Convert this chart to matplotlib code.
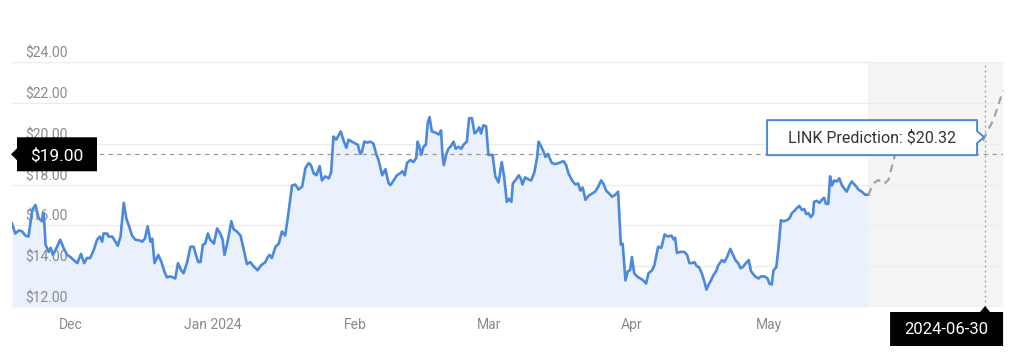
import matplotlib
matplotlib.use("Agg")
import matplotlib.pyplot as plt
from matplotlib.patches import Polygon
from matplotlib.transforms import IdentityTransform

plt.rcParams['font.family'] = ['Roboto', 'DejaVu Sans']

# ---- data (x = days since 2023-12-01) ----
hist_days = [-12.7, -12.0, -11.2, -10.5, -9.8, -9.1, -8.3, -7.6, -6.9, -6.2, -5.8, -5.4, -4.7, -4.3, -3.8,
             -2.9, -2.2, -1.5, -0.7, 0.0, 0.7, 1.5, 2.3, 3.0, 3.6, 4.3, 5.1, 5.8, 6.4, 6.9, 7.2, 8.0, 8.3,
             9.1, 9.8, 10.3, 10.9, 11.6, 12.2, 12.7, 13.4, 14.1, 15.2,
             15.6, 16.2, 16.8, 17.4, 17.8, 18.3, 19.1, 19.8, 20.5, 21.0, 21.7, 22.3, 22.8, 23.4, 24.1, 24.6,
             25.4, 26.1, 26.8, 27.3, 27.8, 28.3, 28.8, 29.3, 29.9, 30.4, 31.2, 31.9, 32.6, 33.1, 33.5, 34.1,
             35.0, 35.5, 36.2, 37.0, 37.7, 38.4, 39.1, 39.8, 40.7, 41.5, 42.4,
             42.8, 43.3, 43.8, 44.6, 45.3, 46.0, 46.7, 47.2, 47.7, 48.2, 48.9, 49.6, 50.4, 51.1, 51.8, 52.3,
             52.9, 53.5, 54.2, 54.7, 55.4, 56.2, 56.7, 57.2, 57.8, 58.3, 58.8, 59.4, 60.0, 60.5, 61.2, 62.0,
             62.5, 63.0, 63.4, 63.9, 64.6, 65.2, 65.9, 66.5, 67.0, 67.8, 68.5, 69.2, 69.6,
             70.3, 71.0, 71.7, 72.2, 72.7, 73.2, 73.9, 74.6, 75.2, 75.5, 75.9, 76.3, 76.8, 77.3, 77.7, 78.1,
             78.6, 79.3, 80.1, 80.6, 80.9, 81.2, 81.7, 82.2, 82.8, 83.3, 83.8, 84.4, 85.0, 85.5, 86.2, 86.7,
             87.3, 87.9, 88.4, 88.9, 89.3, 89.8, 90.4, 90.9, 91.8, 92.4, 93.1, 93.8, 94.3, 94.9, 95.4, 95.9,
             96.2, 96.9, 97.5, 98.0, 98.3, 98.9, 99.6, 100.2, 100.9, 101.5, 101.8, 102.4, 102.9, 103.3,
             103.8, 104.2, 104.7, 105.4, 106.2, 106.7, 107.2, 107.8, 108.3, 109.1, 109.8, 110.4, 110.9,
             111.4, 112.0, 112.7, 113.4, 114.1, 114.8, 115.4, 115.9, 116.5, 117.2, 117.8, 118.5, 119.1,
             119.4, 119.7, 120.1, 120.7, 121.2, 121.7, 122.1, 122.6, 123.2, 123.9, 124.6, 125.2, 125.7,
             126.5, 127.0, 127.8, 128.5, 129.2, 129.9, 130.7, 131.2, 131.5, 131.9, 132.6, 133.5, 134.1,
             134.6, 135.2, 135.7, 136.2, 136.7, 137.3, 137.8, 138.3, 138.8, 139.3, 139.8, 140.4, 140.9,
             141.7, 142.2, 142.8, 143.5, 144.0, 144.6, 145.2, 145.7, 146.2, 146.9, 147.5, 148.0, 148.9,
             149.6, 150.2, 150.9, 151.6, 152.0, 152.5, 152.9, 153.5, 154.0, 154.5, 155.1, 155.8, 156.4,
             156.9, 157.4, 158.0, 158.5, 159.1, 159.6, 160.0, 160.5, 161.0, 161.5, 161.7, 162.3, 162.9,
             163.4, 163.9, 164.3, 164.8, 165.2, 165.6, 166.1, 166.7, 167.2, 167.8, 168.3, 168.8, 169.4,
             169.9, 170.7, 171.4, 172.1, 172.8, 173.5]
hist_price = [16.1, 15.6, 15.75, 15.7, 15.5, 15.45, 16.75, 17.0, 16.35, 16.2, 16.6, 15.05, 14.7, 14.9, 14.55,
              14.95, 15.3, 14.9, 14.55, 14.45, 14.3, 14.15, 14.6, 14.15, 14.4, 14.4, 14.8, 15.3, 15.45, 15.2,
              15.6, 15.6, 15.45, 15.45, 15.2, 15.0, 15.45, 17.1, 16.3, 16.0, 15.5, 15.3, 15.25,
              15.2, 15.35, 15.95, 15.2, 15.35, 14.15, 14.55, 14.2, 13.7, 13.45, 13.5, 13.45, 13.4, 14.15,
              13.8, 13.65, 14.2, 14.95, 14.95, 14.55, 14.2, 14.2, 15.05, 15.1, 15.6, 15.3, 15.1, 15.85, 15.6,
              15.3, 14.55, 15.1, 16.2, 15.8, 15.7, 15.5, 14.8, 14.1, 14.2, 14.0, 13.8, 14.05, 14.2,
              14.4, 14.55, 14.4, 14.95, 15.1, 15.7, 15.5, 16.25, 17.1, 17.95, 18.0, 17.75, 17.9, 18.8, 19.05,
              18.95, 18.55, 18.45, 18.9, 18.2, 18.4, 18.3, 18.6, 20.35, 20.2, 20.4, 20.6, 20.15, 19.8, 20.2,
              20.1, 20.0, 19.95, 19.5, 19.6, 20.1, 20.05, 20.1, 20.0, 19.5, 19.2, 18.45, 18.75, 18.05, 17.97,
              18.2, 18.45, 18.55, 18.65, 18.45, 19.05, 19.2, 19.1, 19.3, 20.1, 19.85, 19.45, 19.85, 19.95,
              21.0, 21.3, 20.6, 20.55, 20.45, 20.65, 19.45, 18.95, 19.45, 19.75, 19.9, 20.1, 19.75, 19.85,
              19.75, 19.95, 20.1, 21.25, 21.25, 20.5, 20.6, 20.8, 20.5, 20.9, 20.85, 19.45, 19.45, 18.4,
              18.1, 19.1, 18.4, 17.15, 17.3, 17.15,
              18.05, 18.25, 18.45, 18.25, 18.0, 18.35, 18.25, 18.2, 18.6, 19.35, 20.1, 19.85, 19.6, 19.35,
              19.5, 19.3, 19.05, 19.0, 19.05, 19.1, 19.15, 18.95, 18.55, 18.2, 18.0, 18.05, 17.7,
              17.85, 17.25, 17.45, 17.55, 17.65, 17.9, 18.2, 18.05, 17.7, 17.55, 17.4, 17.5, 17.65,
              16.35, 15.05, 15.1, 13.3, 13.75, 13.8, 14.45, 13.65, 13.5, 13.4, 13.3, 13.15, 13.65,
              13.8, 14.05, 14.95, 14.9, 15.55, 15.45, 15.5, 15.3, 15.4, 14.65, 14.7, 14.7, 14.55,
              14.15, 14.15, 14.2, 14.0, 13.95, 13.65, 13.3, 12.85, 13.1, 13.3, 13.55, 13.75, 14.05,
              14.3, 14.2, 14.45, 14.85, 14.6, 14.3, 14.15, 13.9, 13.95, 14.15, 14.3, 13.75, 13.5,
              13.4, 13.5, 13.5, 13.4, 13.15, 13.1, 13.8, 13.95, 14.95, 16.25, 16.2, 16.25, 16.35,
              16.6, 16.7, 16.85, 16.95, 16.75, 16.8, 16.55, 16.6, 16.4, 16.55, 17.15, 17.2, 17.1,
              17.25, 17.35, 17.05, 17.05, 18.4, 17.95, 18.2, 18.15, 18.3, 17.95, 17.8, 17.65, 17.95,
              18.15, 17.95, 17.75, 17.65, 17.5, 17.5]

pred_days = [173.5, 174.6, 175.7, 176.8, 177.9, 179.0, 179.3, 198.5, 199.3, 200.7, 202.8]
pred_price = [17.48, 18.06, 18.22, 18.02, 18.22, 19.2, 19.44, 20.18, 20.58, 21.15, 22.6]

month_ticks = [0, 31, 62, 91, 122, 152]
month_labels = ['Dec', 'Jan 2024', 'Feb', 'Mar', 'Apr', 'May']
y_ticks = [12, 14, 16, 18, 20, 22, 24]
y_labels = ['$12.00', '$14.00', '$16.00', '$18.00', '$20.00', '$22.00', '$24.00']

cross_y = 19.48
cross_label = '$19.00'
target_day = 198.9
target_label = '2024-06-30'
target_value = 20.32
pred_text = 'LINK Prediction: $20.32'

# ---- figure ----
W, H = 1024, 360
fig = plt.figure(figsize=(W / 100, H / 100), dpi=100)
ax = fig.add_axes([12 / W, (H - 307) / H, (1003 - 12) / W, (307 - 62) / H])
x_min, x_max = -12.7, 202.8
ax.set_xlim(x_min, x_max)
ax.set_ylim(12, 24)

for s in ax.spines.values():
    s.set_visible(False)

ax.set_yticks(y_ticks)
ax.set_yticklabels([])
ax.tick_params(axis='y', length=0)
ax.grid(axis='y', color='#ececec', lw=1)
ax.set_axisbelow(True)

ax.set_xticks(month_ticks)
ax.set_xticklabels(month_labels)
ax.tick_params(axis='x', length=0, pad=8, labelsize=10, labelcolor='#8a8a8a')

for v, lab in zip(y_ticks, y_labels):
    ax.annotate(lab, xy=(0, v), xycoords=('axes fraction', 'data'), xytext=(9.5, 3.2),
                textcoords='offset points', ha='left', va='baseline', fontsize=10, color='#8a8a8a',
                zorder=2)

# forecast shaded region
ax.axvspan(hist_days[-1], x_max, color='#f5f5f5', lw=0, zorder=0.5)

# history
ax.fill_between(hist_days, hist_price, 12, color='#eaf1fc', lw=0, zorder=1)
ax.plot(hist_days, hist_price, color='#4a89dc', lw=1.9, solid_joinstyle='round', zorder=3)

# prediction
ax.plot(pred_days, pred_price, color='#a3a3a3', lw=1.6, ls=(0, (3.5, 2.5)), zorder=3, clip_on=False)

# crosshair
ax.axhline(cross_y, color='#9a9a9a', lw=0.9, ls=(0, (3.5, 3.5)), zorder=2.5)
ax.axvline(target_day, color='#9a9a9a', lw=0.9, ls=(0, (1.5, 2.5)), zorder=2.5)

ID = IdentityTransform()

# $19.00 box on the left
x0 = ax.transAxes.transform((0, 0))[0] - 1
py = ax.transData.transform((0, cross_y))[1]
poly = [(x0, py), (x0 + 6, py + 6), (x0 + 6, py + 17), (x0 + 86, py + 17),
        (x0 + 86, py - 17), (x0 + 6, py - 17), (x0 + 6, py - 6)]
fig.add_artist(Polygon(poly, closed=True, transform=ID, fc='black', ec='none', zorder=10))
fig.text(x0 + 46, py - 1, cross_label, transform=ID, ha='center', va='center',
         color='white', fontsize=12.5, zorder=11)

# date box at the bottom
vx = ax.transData.transform((target_day, 12))[0]
by = ax.transAxes.transform((0, 0))[1]
poly = [(vx, by + 1), (vx + 5, by - 5), (vx + 18, by - 5), (vx + 18, by - 39),
        (vx - 95, by - 39), (vx - 95, by - 5), (vx - 5, by - 5)]
fig.add_artist(Polygon(poly, closed=True, transform=ID, fc='black', ec='none', zorder=10))
fig.text(vx - 38.5, by - 22.5, target_label, transform=ID, ha='center', va='center',
         color='white', fontsize=12, zorder=11)

# prediction tooltip
ax_, ay_ = ax.transData.transform((target_day, target_value))
ax_ -= 1
poly = [(ax_, ay_), (ax_ - 7, ay_ + 6), (ax_ - 7, ay_ + 17), (ax_ - 217, ay_ + 17),
        (ax_ - 217, ay_ - 18), (ax_ - 7, ay_ - 18), (ax_ - 7, ay_ - 6)]
fig.add_artist(Polygon(poly, closed=True, transform=ID, fc='white', ec='#4a89dc', lw=1.4,
                       joinstyle='round', zorder=10))
fig.text(ax_ - 112, ay_ - 0.5, pred_text, transform=ID, ha='center', va='center',
         color='#333333', fontsize=11.5, zorder=11)

fig.savefig('out.png', dpi=100, facecolor='white')
